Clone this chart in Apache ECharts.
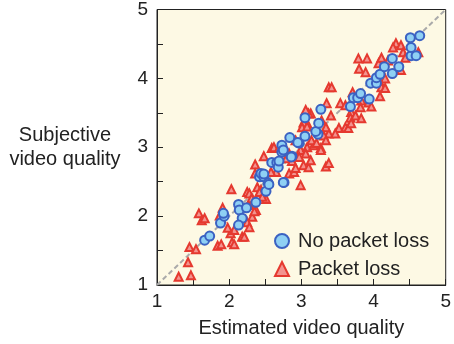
<!DOCTYPE html>
<html>
<head>
<meta charset="utf-8">
<script src="https://cdn.jsdelivr.net/npm/echarts@6/dist/echarts.min.js"></script>
<style>html,body{margin:0;padding:0;background:#fff}#c{width:454px;height:344px}</style>
</head>
<body>
<div id="c"></div>
<script>
const xTicks = [1, 2, 3, 4, 5];
const yTicks = [1, 2, 3, 4, 5];
const refLine = [[1, 1], [5, 5]];
const noLoss = [
  [1.66,1.65],[1.73,1.71],[1.88,1.90],[1.93,2.00],[1.92,2.04],[2.13,2.17],[2.14,2.09],[2.24,2.12],
  [2.18,1.97],[2.13,1.87],[2.37,2.20],[2.42,2.57],[2.44,2.62],[2.48,2.57],[2.54,2.48],[2.51,2.36],
  [2.59,2.78],[2.66,2.78],[2.68,2.71],[2.73,3.03],[2.73,2.93],[2.76,2.49],[2.87,2.87],[2.97,3.06],
  [2.84,3.14],[3.05,3.16],[3.23,3.19],[3.20,3.23],[3.24,3.35],[3.05,3.43],[3.27,3.55],[3.68,3.59],
  [3.94,3.70],[3.72,3.72],[3.78,3.72],[3.82,3.78],[3.96,3.93],[4.04,3.93],[4.04,4.01],[4.09,4.06],
  [4.26,4.07],[4.15,4.17],[4.35,4.17],[4.26,4.29],[4.52,4.33],[4.59,4.33],[4.52,4.45],[4.51,4.59],
  [4.64,4.62],[2.95,3.07],[2.75,2.96],[2.86,2.86],[2.48,2.61],[2.55,2.46],[2.75,2.49],[2.69,2.80]
];
const packetLoss = [
  [1.58,2.04],[1.62,1.94],[1.66,1.97],[1.45,1.55],[1.54,1.52],[1.43,1.33],[1.30,1.12],[1.47,1.14],
  [1.84,1.57],[1.89,1.59],[2.04,1.62],[2.07,1.59],[2.02,1.75],[2.07,1.80],[2.18,1.70],[2.21,1.70],
  [1.91,2.12],[1.89,1.97],[2.03,2.39],[2.25,2.35],[2.36,2.75],[2.48,2.87],[2.32,1.99],[2.37,2.09],
  [2.25,1.91],[2.28,2.16],[2.33,2.23],[2.39,2.42],[2.44,2.38],[2.51,2.25],[2.65,2.64],[2.58,2.64],
  [2.79,2.84],[2.87,2.80],[2.83,2.62],[2.90,2.64],[2.92,2.70],[2.99,2.96],[3.03,2.74],[3.10,2.71],
  [3.13,2.81],[2.99,2.45],[3.08,3.00],[3.17,3.03],[3.27,2.99],[3.34,2.72],[2.83,2.91],[2.79,2.96],
  [3.06,2.91],[2.59,2.99],[2.28,2.33],[2.42,2.35],[2.35,2.07],[1.98,1.83],[1.87,2.01],[2.31,2.26],
  [2.28,1.84],[2.36,2.62],[2.46,2.28],[3.38,3.20],[3.52,3.28],[3.13,3.49],[3.08,3.35],[3.27,2.96],
  [3.38,2.77],[2.97,2.86],
  [4.31,4.51],[4.27,4.45],[4.38,4.48],[4.62,4.38],[4.41,4.38],[4.44,4.30],[3.79,4.29],[3.91,4.29],
  [4.07,4.22],[4.20,4.26],[4.11,4.30],[3.80,4.14],[3.89,4.09],[4.31,4.12],[4.38,4.12],[4.16,4.00],
  [4.09,3.94],[4.11,3.87],[4.16,3.86],[4.09,3.74],[3.38,3.87],[3.42,3.87],[3.54,3.64],[3.61,3.61],
  [3.71,3.80],[3.83,3.68],[3.82,3.58],[3.93,3.65],[3.97,3.59],[3.69,3.51],[3.68,3.43],[3.75,3.46],
  [3.83,3.42],[3.61,3.29],[3.65,3.28],[3.69,3.35],[3.47,3.20],[3.41,3.46],[3.35,3.64],[3.10,3.49],
  [3.06,3.54],[3.03,3.36],[3.01,3.29],[3.08,3.30],[3.28,3.39],[3.34,3.29],[3.31,3.17],[3.34,3.10],
  [3.14,3.10],[3.21,3.06],[2.92,3.10],[2.62,3.00],[2.69,2.99]
];
const seriesNames = ['No packet loss', 'Packet loss'];

const FONT = 'Liberation Sans, Arial, Helvetica, sans-serif';
const TXT = '#222';
const chart = echarts.init(document.getElementById('c'), null, {renderer: 'canvas'});
const labelFmt = v => (xTicks.indexOf(v) >= 0 ? String(v) : '');
const axisCommon = {
  type: 'value', min: 1, max: 5, interval: 0.5,
  axisLine: {show: true, onZero: false, lineStyle: {color: '#222', width: 1}},
  axisTick: {show: true, inside: true, length: 6, lineStyle: {color: '#222', width: 1}},
  splitLine: {show: false},
  axisLabel: {color: TXT, fontSize: 19, fontFamily: FONT, formatter: labelFmt}
};
chart.setOption({
  animation: false,
  backgroundColor: '#ffffff',
  grid: {left: 157, top: 9, right: 6, bottom: 59, show: true, backgroundColor: '#fdf9e4',
         borderColor: '#222', borderWidth: 1},
  xAxis: Object.assign({}, axisCommon, {
    name: 'Estimated video quality', nameLocation: 'middle', nameGap: 33,
    nameTextStyle: {color: TXT, fontSize: 20, fontFamily: FONT},
    axisLabel: Object.assign({}, axisCommon.axisLabel, {margin: 7})
  }),
  yAxis: Object.assign({}, axisCommon, {
    name: 'Subjective\nvideo quality', nameLocation: 'middle', nameRotate: 0, nameGap: 92,
    nameTextStyle: {color: TXT, fontSize: 20, fontFamily: FONT, align: 'center', verticalAlign: 'middle',
                    lineHeight: 24, padding: [0, 0, 12, 0]},
    axisLabel: Object.assign({}, axisCommon.axisLabel, {margin: 9})
  }),
  legend: {
    orient: 'vertical', left: 269, top: 226, itemWidth: 14, itemHeight: 14, itemGap: 8,
    data: [{name: seriesNames[0], icon: 'circle'}, {name: seriesNames[1], icon: 'triangle'}],
    textStyle: {color: TXT, fontSize: 20, fontFamily: FONT, padding: [0, 0, 0, 4]}
  },
  series: [
    {type: 'line', data: refLine, symbol: 'none', silent: true, z: 1,
     lineStyle: {color: '#aaaaaa', width: 2, type: [5, 3]}},
    {name: seriesNames[1], type: 'scatter', data: packetLoss, symbol: 'triangle', symbolSize: 8, z: 2,
     itemStyle: {color: '#f3938f', borderColor: '#e5392f', borderWidth: 2, opacity: 1}},
    {name: seriesNames[0], type: 'scatter', data: noLoss, symbol: 'circle', symbolSize: 9, z: 3,
     itemStyle: {color: '#8fd0f4', borderColor: '#3b62c2', borderWidth: 2, opacity: 1}}
  ]
});
</script>
</body>
</html>
